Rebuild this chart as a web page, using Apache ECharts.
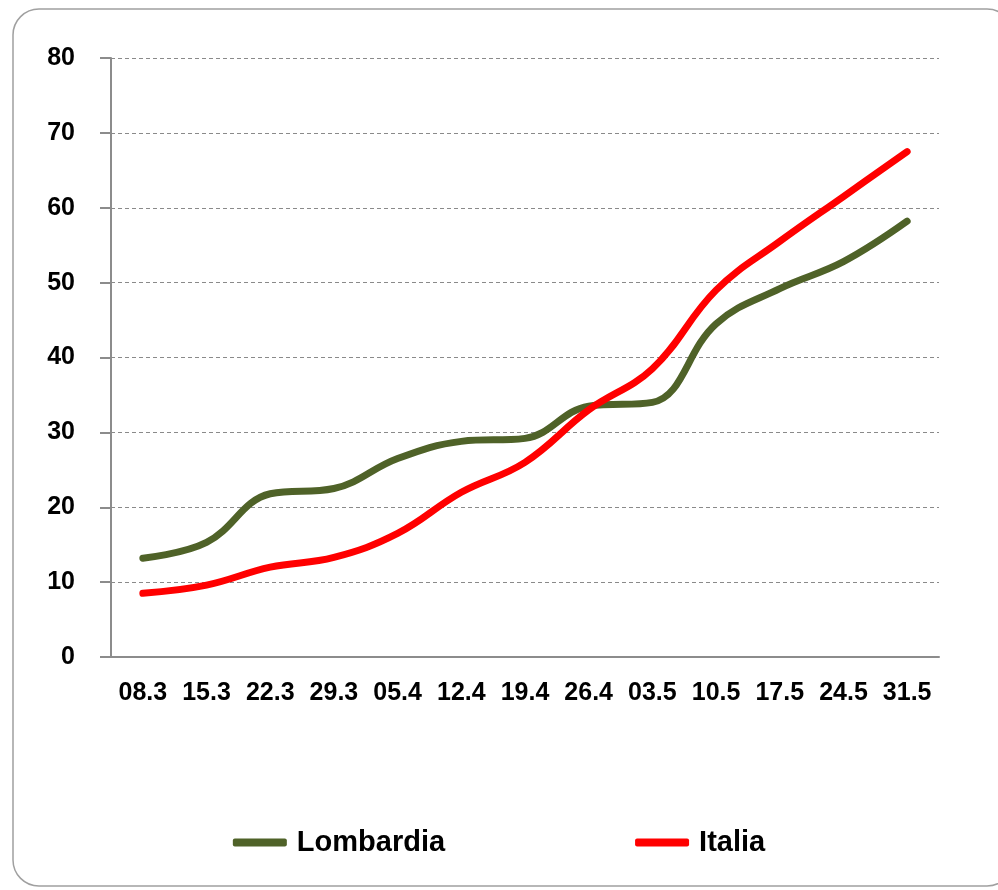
<!DOCTYPE html>
<html lang="it">
<head>
<meta charset="UTF-8">
<title>Lombardia / Italia</title>
<script src="https://cdn.jsdelivr.net/npm/echarts@6/dist/echarts.min.js"></script>
<style>
  html, body { margin: 0; padding: 0; background: #fff; }
  #chart { width: 998px; height: 890px; }
</style>
</head>
<body>
<div id="chart"></div>
<script>
// categorie (settimane)
var weeks = ['08.3', '15.3', '22.3', '29.3', '05.4', '12.4', '19.4', '26.4', '03.5', '10.5', '17.5', '24.5', '31.5'];
var lombardia = [13.2, 15.3, 21.8, 22.5, 26.5, 28.8, 29.2, 33.5, 34.0, 44.5, 49.2, 52.8, 58.2];
var italia = [8.5, 9.6, 12.0, 13.3, 16.5, 22.0, 26.0, 33.0, 38.5, 49.0, 55.5, 61.5, 67.5];
var yTicks = [0, 10, 20, 30, 40, 50, 60, 70, 80];

var font = 'Liberation Sans, Arial, sans-serif';
var chart = echarts.init(document.getElementById('chart'), null, { renderer: 'canvas' });

chart.setOption({
  animation: false,
  backgroundColor: '#fff',
  graphic: [{
    type: 'rect',
    shape: { x: 13, y: 9, width: 1000, height: 877, r: 26 },
    style: { fill: 'none', stroke: '#a0a0a0', lineWidth: 1.5 },
    z: -1
  }],
  grid: { left: 111, right: 59, top: 58, bottom: 233 },
  legend: {
    bottom: 28,
    left: 'center',
    itemGap: 190,
    itemWidth: 54,
    itemHeight: 8,
    icon: 'roundRect',
    textStyle: { fontFamily: font, fontWeight: 'bold', fontSize: 29, color: '#000', padding: [0, 0, 0, 5] },
    data: ['Lombardia', 'Italia']
  },
  xAxis: {
    type: 'category',
    data: weeks,
    boundaryGap: true,
    axisLine: { lineStyle: { color: '#8c8c8c', width: 2 } },
    axisTick: { length: 10, lineStyle: { color: '#8c8c8c', width: 2 } },
    axisLabel: { interval: 0, margin: 24, fontFamily: font, fontWeight: 'bold', fontSize: 25, color: '#000' }
  },
  yAxis: {
    type: 'value',
    min: yTicks[0],
    max: yTicks[yTicks.length - 1],
    interval: 10,
    axisLine: { show: true, lineStyle: { color: '#8c8c8c', width: 2 } },
    axisTick: { show: true, length: 11, lineStyle: { color: '#8c8c8c', width: 2 } },
    axisLabel: { margin: 36, fontFamily: font, fontWeight: 'bold', fontSize: 25, color: '#000' },
    splitLine: { lineStyle: { color: '#8a8a8a', type: [4, 3], width: 1 } }
  },
  series: [
    {
      name: 'Lombardia',
      type: 'line',
      data: lombardia,
      smooth: 0.4,
      symbol: 'none',
      lineStyle: { color: '#4f6228', width: 7, cap: 'round', join: 'round' },
      itemStyle: { color: '#4f6228' },
      z: 3
    },
    {
      name: 'Italia',
      type: 'line',
      data: italia,
      smooth: 0.4,
      symbol: 'none',
      lineStyle: { color: '#ff0000', width: 7, cap: 'round', join: 'round' },
      itemStyle: { color: '#ff0000' },
      z: 4
    }
  ]
});
</script>
</body>
</html>
